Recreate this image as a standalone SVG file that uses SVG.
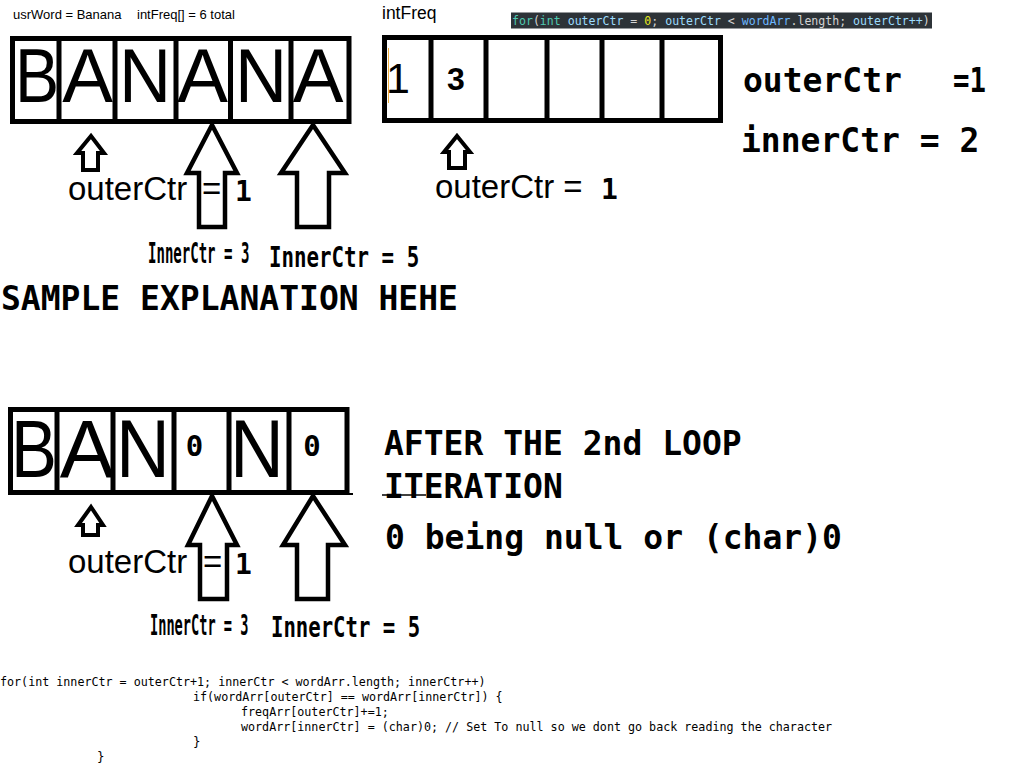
<svg xmlns="http://www.w3.org/2000/svg" width="1024" height="768" viewBox="0 0 1024 768">
<style>
.box{fill:none;stroke:#000;stroke-width:5}
.ln{stroke:#000;stroke-width:5}
.big{font-family:"Liberation Sans",Arial,sans-serif;font-size:76px;fill:#000;text-anchor:middle}
.big2{font-family:"Liberation Sans",Arial,sans-serif;font-size:82px;fill:#000;text-anchor:middle}
.sans{font-family:"Liberation Sans",Arial,sans-serif;fill:#000}
.mono{font-family:"DejaVu Sans Mono","Liberation Mono",monospace;font-weight:bold;fill:#000}
.code{font-family:"DejaVu Sans Mono","Liberation Mono",monospace;font-size:12.5px;fill:#000}
.arrow{fill:#fff;stroke:#000;stroke-width:4.5;stroke-linejoin:miter}
.sarrow{fill:#fff;stroke:#000;stroke-width:4;stroke-linejoin:miter}
</style>
<rect width="1024" height="768" fill="#fff"/>

<g id="header">
<text class="sans" x="13" y="19" font-size="13">usrWord = Banana</text>
<text class="sans" x="137" y="19" font-size="13">intFreq[] = 6 total</text>
<text class="sans" x="382" y="19" font-size="17.5">intFreq</text>
</g>

<g id="outer-loop-code">
<rect x="511" y="12.5" width="421" height="16" fill="#2d3338"/>
<text class="code" transform="translate(512,24.5) scale(0.926,1)" x="0" y="0"><tspan fill="#4ec9b0">for</tspan><tspan fill="#d4d4d4">(</tspan><tspan fill="#4ec9b0">int</tspan><tspan fill="#9cdcfe"> outerCtr</tspan><tspan fill="#d4d4d4"> = </tspan><tspan fill="#e8e820">0</tspan><tspan fill="#d4d4d4">; </tspan><tspan fill="#9cdcfe">outerCtr</tspan><tspan fill="#d4d4d4"> &lt; </tspan><tspan fill="#6cb6ff">wordArr</tspan><tspan fill="#d4d4d4">.length; </tspan><tspan fill="#9cdcfe">outerCtr++</tspan><tspan fill="#d4d4d4">)</tspan></text>
</g>

<g id="word-array-top">
<rect class="box" x="12.5" y="38.5" width="336.5" height="83"/>
<line class="ln" x1="59" y1="38" x2="59" y2="122"/>
<line class="ln" x1="115" y1="38" x2="115" y2="122"/>
<line class="ln" x1="176" y1="38" x2="176" y2="122"/>
<line class="ln" x1="230.5" y1="38" x2="230.5" y2="122"/>
<line class="ln" x1="291" y1="38" x2="291" y2="122"/>
<text class="big" transform="translate(37,102) scale(0.87,1)" x="0" y="0">B</text>
<text class="big" x="87.5" y="102">A</text>
<text class="big" transform="translate(145,102) scale(0.95,1)" x="0" y="0">N</text>
<text class="big" x="202.5" y="102">A</text>
<text class="big" transform="translate(261,102) scale(0.95,1)" x="0" y="0">N</text>
<text class="big" x="318" y="102">A</text>
</g>

<g id="freq-array">
<rect class="box" x="384.5" y="37.5" width="336" height="83"/>
<line class="ln" x1="431" y1="37" x2="431" y2="121"/>
<line class="ln" x1="486" y1="37" x2="486" y2="121"/>
<line class="ln" x1="547" y1="37" x2="547" y2="121"/>
<line class="ln" x1="602" y1="37" x2="602" y2="121"/>
<line class="ln" x1="662" y1="37" x2="662" y2="121"/>
<line x1="388.5" y1="48" x2="388.5" y2="103" stroke="#f0b040" stroke-width="1"/>
<text class="sans" x="386" y="93" font-size="43">1</text>
<text class="sans" x="447" y="90" font-size="32" font-weight="bold">3</text>
</g>

<g id="counters-right">
<text class="mono" x="743" y="92" font-size="33">outerCtr</text>
<text class="mono" transform="translate(953,92) scale(0.83,1)" x="0" y="0" font-size="33">=1</text>
<text class="mono" x="741" y="152" font-size="33">innerCtr = 2</text>
</g>

<g id="word-array-bottom">
<rect class="box" x="10.5" y="409.5" width="336.5" height="83"/>
<line class="ln" x1="57" y1="409" x2="57" y2="493"/>
<line class="ln" x1="113" y1="409" x2="113" y2="493"/>
<line class="ln" x1="174" y1="409" x2="174" y2="493"/>
<line class="ln" x1="229" y1="409" x2="229" y2="493"/>
<line class="ln" x1="289" y1="409" x2="289" y2="493"/>
<line x1="40" y1="494" x2="353" y2="494" stroke="#000" stroke-width="2"/>
<text class="big2" transform="translate(34,477) scale(0.84,1)" x="0" y="0">B</text>
<text class="big2" x="87" y="477">A</text>
<text class="big2" transform="translate(143,477) scale(0.91,1)" x="0" y="0">N</text>
<text class="mono" x="194.5" y="456" font-size="29" text-anchor="middle">0</text>
<text class="big2" transform="translate(257,477) scale(0.91,1)" x="0" y="0">N</text>
<text class="mono" x="312" y="456" font-size="29" text-anchor="middle">0</text>
</g>

<g id="connectors">
<polygon class="sarrow" points="91,136 104,153 98,153 98,170 83,170 83,153 77,153"/>
<polygon class="arrow" points="212,125 237,173 225,173 225,227 199,227 199,173 187,173"/>
<polygon class="arrow" points="313,125 345,173 329,173 329,227 297,227 297,173 281,173"/>
<polygon class="sarrow" points="457,136 470,152 465,152 465,168 449,168 449,152 444,152"/>
<polygon class="sarrow" points="91,507 103,525 98,525 98,535 83,535 83,525 78,525"/>
<polygon class="arrow" points="212,496 237,545 227,545 227,599 200,599 200,545 188,545"/>
<polygon class="arrow" points="313,496 345,545 328,545 328,599 297,599 297,545 283,545"/>
</g>

<g id="labels-top">
<text class="sans" x="68" y="200" font-size="33">outerCtr</text>
<text class="sans" x="202" y="200" font-size="33">=</text>
<text class="mono" x="235" y="201" font-size="28">1</text>
<text class="sans" x="435" y="198" font-size="33">outerCtr =</text>
<text class="mono" x="601" y="199" font-size="28">1</text>
<text class="mono" transform="translate(148,263) scale(0.484,1)" x="0" y="0" font-size="29">InnerCtr = 3</text>
<text class="mono" transform="translate(269,267) scale(0.717,1)" x="0" y="0" font-size="29">InnerCtr = 5</text>
<text class="mono" x="1" y="310" font-size="33">SAMPLE EXPLANATION HEHE</text>
</g>

<g id="labels-bottom">
<text class="sans" x="68" y="573" font-size="33">outerCtr</text>
<text class="sans" x="203" y="573" font-size="33">=</text>
<text class="mono" x="235" y="574" font-size="28">1</text>
<text class="mono" transform="translate(150,635) scale(0.47,1)" x="0" y="0" font-size="29">InnerCtr = 3</text>
<text class="mono" transform="translate(271,637) scale(0.712,1)" x="0" y="0" font-size="29">InnerCtr = 5</text>
<text class="mono" x="384" y="455" font-size="33">AFTER THE 2nd LOOP</text>
<text class="mono" x="384" y="498" font-size="33">ITERATION</text>
<line x1="382" y1="495" x2="426" y2="495" stroke="#000" stroke-width="1.5"/>
<text class="mono" x="385" y="549" font-size="33">0 being null or (char)0</text>
</g>

<g id="inner-loop-code">
<text class="code" transform="translate(0,686) scale(0.936,1)" x="0" y="0">for(int innerCtr = outerCtr+1; innerCtr &lt; wordArr.length; innerCtr++)</text>
<text class="code" transform="translate(193,701) scale(0.936,1)" x="0" y="0">if(wordArr[outerCtr] == wordArr[innerCtr]) {</text>
<text class="code" transform="translate(241,716) scale(0.936,1)" x="0" y="0">freqArr[outerCtr]+=1;</text>
<text class="code" transform="translate(241,731) scale(0.936,1)" x="0" y="0">wordArr[innerCtr] = (char)0; // Set To null so we dont go back reading the character</text>
<text class="code" x="193" y="746">}</text>
<text class="code" x="97" y="761">}</text>
</g>
</svg>
